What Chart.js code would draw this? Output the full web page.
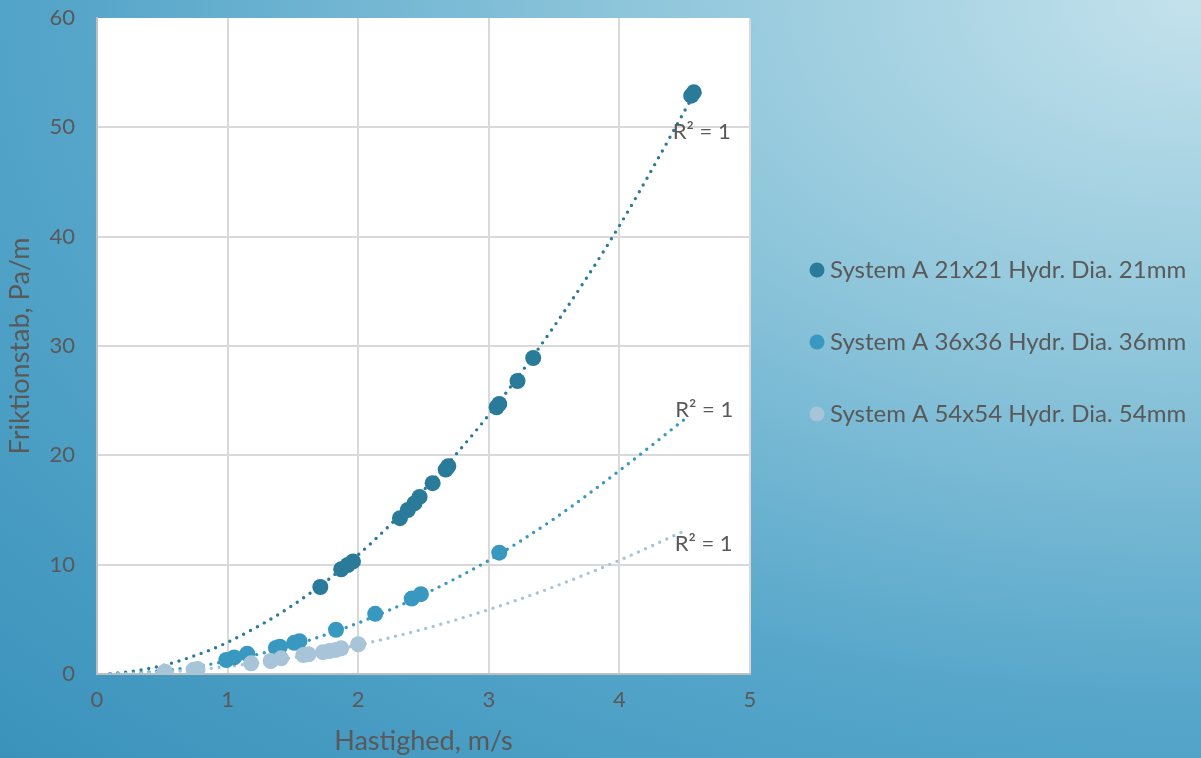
<!DOCTYPE html>
<html>
<head>
<meta charset="utf-8">
<script src="https://cdn.jsdelivr.net/npm/chart.js@4.4.1/dist/chart.umd.min.js"></script>
<style>
html, body { margin: 0; padding: 0; width: 1201px; height: 758px; overflow: hidden; }
body { background: radial-gradient(ellipse farthest-corner at 100% 0%, #c4e2ec 0%, #8fc6db 33%, #56a6ca 66%, #3a92bb 100%); }
canvas { display: block; }
</style>
</head>
<body>
<canvas id="c" width="1201" height="758"></canvas>
<script>
// ---- data ----
const seriesNames = [
  'System A 21x21 Hydr. Dia. 21mm',
  'System A 36x36 Hydr. Dia. 36mm',
  'System A 54x54 Hydr. Dia. 54mm'
];
const xTitle = 'Hastighed, m/s';
const yTitle = 'Friktionstab, Pa/m';
const r2Labels = ['R² = 1', 'R² = 1', 'R² = 1'];

const s1x = [1.71, 1.87, 1.92, 1.96, 2.32, 2.38, 2.43, 2.47, 2.57, 2.67, 2.69, 3.06, 3.08, 3.22, 3.34, 4.55, 4.57];
const s1y = [7.96, 9.58, 9.97, 10.3, 14.25, 15.0, 15.6, 16.2, 17.45, 18.7, 19.0, 24.4, 24.7, 26.8, 28.9, 52.9, 53.2];

const s2x = [0.99, 1.05, 1.15, 1.37, 1.40, 1.51, 1.55, 1.83, 2.13, 2.41, 2.48, 3.08];
const s2y = [1.28, 1.52, 1.85, 2.38, 2.5, 2.85, 3.0, 4.05, 5.5, 6.9, 7.3, 11.1];

const s3x = [0.52, 0.74, 0.77, 1.18, 1.33, 1.41, 1.58, 1.62, 1.73, 1.78, 1.83, 1.87, 2.0];
const s3y = [0.21, 0.40, 0.45, 0.98, 1.19, 1.43, 1.74, 1.80, 2.0, 2.1, 2.2, 2.35, 2.72];

// dotted trendlines
const t1x = [0.1, 0.25, 0.5, 0.75, 1, 1.5, 2, 2.5, 3, 3.5, 4, 4.57];
const t1y = [0.04, 0.21, 0.77, 1.68, 2.9, 6.3, 10.9, 16.8, 23.7, 31.8, 41.0, 53.0];
const t2x = [0.1, 0.25, 0.5, 0.75, 1, 1.5, 2, 2.5, 3, 3.5, 4, 4.52];
const t2y = [0.01, 0.08, 0.30, 0.67, 1.19, 2.64, 4.67, 7.27, 10.4, 14.2, 18.6, 23.5];
const t3x = [0.1, 0.25, 0.5, 0.75, 1, 1.5, 2, 2.5, 3, 3.5, 4, 4.5];
const t3y = [0.01, 0.04, 0.17, 0.38, 0.68, 1.50, 2.65, 4.11, 5.89, 7.98, 10.4, 13.1];

const xTicks = [0, 1, 2, 3, 4, 5];
const yTicks = [0, 10, 20, 30, 40, 50, 60];

// ---- styles ----
const colors = ['#2a7a9a', '#3898c0', '#a7c4d8'];
const textColor = '#595959';
const FONT = 'Lato';

function pts(xs, ys) { return xs.map((x, i) => ({ x: x, y: ys[i] })); }

const markerSet = (i, xs, ys, order) => ({
  label: seriesNames[i],
  data: pts(xs, ys),
  backgroundColor: colors[i],
  borderColor: colors[i],
  borderWidth: 0,
  pointRadius: 8,
  pointHoverRadius: 8,
  showLine: false,
  order: order
});
const trendSet = (i, xs, ys, order) => ({
  label: 'trend' + i,
  isTrend: true,
  r2: r2Labels[i],
  data: pts(xs, ys),
  borderColor: colors[i],
  backgroundColor: colors[i],
  borderWidth: 3.4,
  borderDash: [0, 7.8],
  borderCapStyle: 'round',
  pointRadius: 0,
  pointHoverRadius: 0,
  showLine: true,
  fill: false,
  cubicInterpolationMode: 'monotone',
  order: order
});

const plotBg = {
  id: 'plotBg',
  beforeDraw(chart) {
    const { ctx, chartArea: a } = chart;
    ctx.save();
    ctx.fillStyle = '#ffffff';
    ctx.fillRect(a.left, a.top, a.right - a.left, a.bottom - a.top);
    ctx.restore();
  }
};

const r2Offsets = [[-21, 37], [-12, -7], [-10, 13]];
const r2Plugin = {
  id: 'r2',
  afterDatasetsDraw(chart) {
    const { ctx } = chart;
    const xs = chart.scales.x, ys = chart.scales.y;
    let k = 0;
    chart.data.datasets.forEach((ds) => {
      if (!ds.isTrend) return;
      const last = ds.data[ds.data.length - 1];
      const px = xs.getPixelForValue(last.x), py = ys.getPixelForValue(last.y);
      const off = r2Offsets[k++];
      ctx.save();
      ctx.font = '22px ' + FONT;
      ctx.fillStyle = textColor;
      ctx.textAlign = 'left';
      ctx.textBaseline = 'middle';
      ctx.fillText(ds.r2, px + off[0], py + off[1]);
      ctx.restore();
    });
  }
};

const legendPlace = {
  id: 'legendPlace',
  afterInit(chart) {
    const lg = chart.legend;
    if (lg && !lg._patched) {
      const f = lg.fit.bind(lg);
      lg.fit = function () { f(); this.width = 451; };
      lg._patched = true;
    }
  },
  afterLayout(chart) {
    const lg = chart.legend;
    if (!lg) return;
    const dx = 768 - lg.left, dy = 210 - lg.top;
    lg.left += dx; lg.right += dx; lg.top += dy; lg.bottom += dy;
  }
};

function draw() {
  Chart.defaults.font.family = FONT;
  Chart.defaults.color = textColor;
  new Chart(document.getElementById('c'), {
    type: 'scatter',
    data: {
      datasets: [
        markerSet(0, s1x, s1y, 2),
        markerSet(1, s2x, s2y, 1),
        markerSet(2, s3x, s3y, 0),
        trendSet(0, t1x, t1y, 5),
        trendSet(1, t2x, t2y, 4),
        trendSet(2, t3x, t3y, 3)
      ]
    },
    options: {
      responsive: false,
      animation: false,
      devicePixelRatio: 1,
      layout: { padding: { top: 18, left: 0, right: 0, bottom: 0 } },
      plugins: {
        tooltip: { enabled: false },
        legend: {
          display: true,
          position: 'right',
          align: 'start',
          labels: {
            usePointStyle: true,
            pointStyle: 'circle',
            boxWidth: 2,
            boxHeight: 10.6,
            padding: 48,
            color: textColor,
            font: { size: 24, family: FONT },
            filter: (item, data) => !data.datasets[item.datasetIndex].isTrend,
            sort: (a, b) => a.datasetIndex - b.datasetIndex
          }
        }
      },
      scales: {
        x: {
          type: 'linear',
          min: 0, max: 5,
          afterBuildTicks: (s) => { s.ticks = xTicks.map(v => ({ value: v })); },
          afterFit: (s) => { s.height = 84; s.paddingLeft = 0; s.paddingRight = 0; },
          grid: { color: '#d9d9d9', lineWidth: 2, drawTicks: false },
          border: { color: '#bfbfbf', width: 2 },
          ticks: { padding: 13, color: textColor, font: { size: 22, family: FONT } },
          title: { display: true, text: xTitle, color: textColor, font: { size: 27, family: FONT }, padding: { top: 0, bottom: 1 } }
        },
        y: {
          type: 'linear',
          min: 0, max: 60,
          afterBuildTicks: (s) => { s.ticks = yTicks.map(v => ({ value: v })); },
          afterFit: (s) => { s.width = 97; s.paddingTop = 0; s.paddingBottom = 0; },
          grid: {
            color: (c) => (c.tick && c.tick.value === 60 ? 'rgba(0,0,0,0)' : '#d9d9d9'),
            lineWidth: 2, drawTicks: false
          },
          border: { color: '#bfbfbf', width: 2 },
          ticks: { padding: 22, color: textColor, font: { size: 22, family: FONT } },
          title: { display: true, text: yTitle, color: textColor, font: { size: 27, family: FONT }, padding: { top: 4, bottom: 0 } }
        }
      }
    },
    plugins: [plotBg, r2Plugin, legendPlace]
  });
}

if (document.fonts && document.fonts.load) {
  Promise.all([document.fonts.load('22px ' + FONT)]).then(draw, draw);
} else { draw(); }
</script>
</body>
</html>
